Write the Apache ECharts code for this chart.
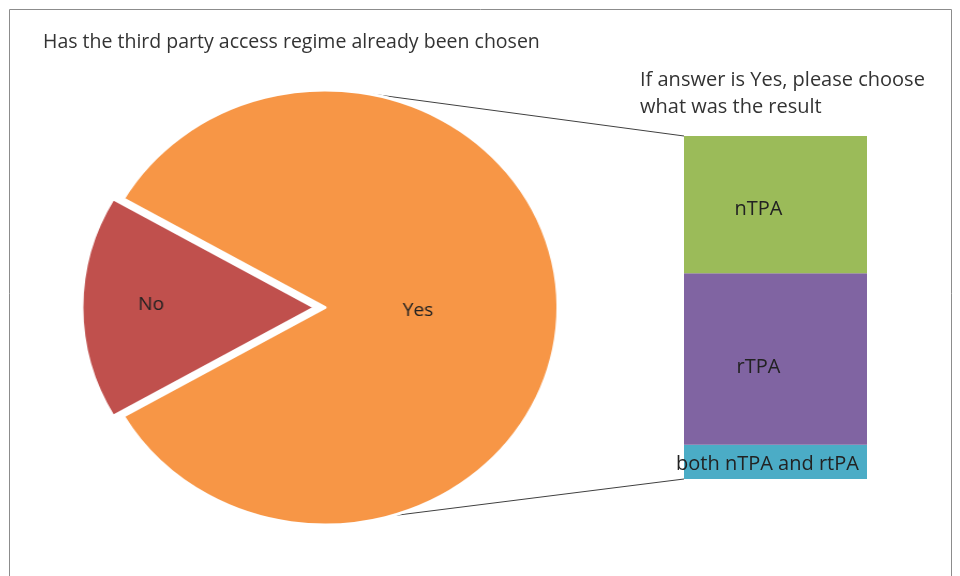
<!DOCTYPE html>
<html><head><meta charset="utf-8">
<script src="https://cdn.jsdelivr.net/npm/echarts@6/dist/echarts.min.js"></script>
<style>
html,body{margin:0;padding:0;background:#fff}
#wrap{position:relative;width:960px;height:576px;overflow:hidden}
#c,#p{position:absolute;left:0;top:0;width:960px;height:576px}
#p{transform-origin:325px 0}
</style>
</head><body><div id="wrap"><div id="c"></div><div id="p"></div></div>
<script>
var pieCategories = ['No', 'Yes'];
var pieValues = [6, 30];
var barCategories = ['both nTPA and rtPA', 'rTPA', 'nTPA'];
var barValues = [3, 15, 12];
var titleText = 'Has the third party access regime already been chosen';
var subText = 'If answer is Yes, please choose\nwhat was the result';

var FONT = '"Open Sans", sans-serif';
var pieColors = ['#C0504D', '#F79646'];
var barColors = ['#4BACC6', '#8064A2', '#9BBB59'];
var labelOffsets = [[-8, 2], [-17, 8], [-17, 5]];
var cx = 325, cy = 307.5, R = 217.5, stretch = 233 / 217.5;
document.getElementById('p').style.transform = 'scaleX(' + stretch + ')';
var noAngle = pieValues[0] / (pieValues[0] + pieValues[1]) * 360;

var chart = echarts.init(document.getElementById('c'));
var pie = echarts.init(document.getElementById('p'));

var barSeries = barCategories.map(function (name, i) {
  return {
    type: 'bar', name: name, stack: 's', barWidth: '100%',
    data: [barValues[i]],
    itemStyle: { color: barColors[i] },
    label: { show: true, position: 'inside', formatter: '{a}', offset: labelOffsets[i], color: '#222', fontFamily: FONT, fontSize: 20 },
    silent: true
  };
});
var total = barValues.reduce(function (a, b) { return a + b; }, 0);

chart.setOption({
  animation: false,
  title: [
    { text: titleText, left: 38, top: 27, textStyle: { fontFamily: FONT, fontSize: 19.5, fontWeight: 'normal', color: '#333' } },
    { text: subText, left: 635, top: 62, textStyle: { fontFamily: FONT, fontSize: 20, fontWeight: 'normal', color: '#333', lineHeight: 27 } }
  ],
  grid: { left: 684, top: 136, width: 183, height: 343 },
  xAxis: { type: 'category', data: ['Yes'], show: false },
  yAxis: { type: 'value', min: 0, max: total, show: false },
  series: barSeries
});

pie.setOption({
  animation: false,
  series: [{
    type: 'pie',
    center: [cx, cy], radius: R,
    startAngle: 180 + noAngle / 2,
    clockwise: true,
    selectedMode: 'single', selectedOffset: 9.5,
    itemStyle: { borderColor: '#fff', borderWidth: 3 },
    label: { show: true, position: 'inside', color: '#222', fontFamily: FONT, fontSize: 18 },
    labelLine: { show: false },
    labelLayout: function (p) { return { dx: p.dataIndex === 0 ? -41 : -25, dy: p.dataIndex === 0 ? -3 : 3 }; },
    emphasis: { disabled: true },
    silent: true,
    data: pieCategories.map(function (n, i) {
      return { name: n, value: pieValues[i], selected: i === 0, itemStyle: { color: pieColors[i] } };
    })
  }]
});

var tl = chart.convertToPixel({ gridIndex: 0 }, ['Yes', total]);
var bl = chart.convertToPixel({ gridIndex: 0 }, ['Yes', 0]);
var gx = 684;
var aTop = 9.1 * Math.PI / 180, aBot = 16.7 * Math.PI / 180;
chart.setOption({
  graphic: [
    { type: 'rect', shape: { x: 9.5, y: 9.5, width: 942, height: 600 }, style: { fill: 'none', stroke: '#8c8c8c', lineWidth: 1 }, silent: true },
    { type: 'line', shape: { x1: cx + stretch * R * Math.sin(aTop), y1: cy - R * Math.cos(aTop), x2: gx, y2: tl[1] }, style: { stroke: '#404040', lineWidth: 1 }, silent: true, z: 10 },
    { type: 'line', shape: { x1: cx + stretch * R * Math.sin(aBot), y1: cy + R * Math.cos(aBot), x2: gx, y2: bl[1] }, style: { stroke: '#404040', lineWidth: 1 }, silent: true, z: 10 }
  ]
});
</script></body></html>
